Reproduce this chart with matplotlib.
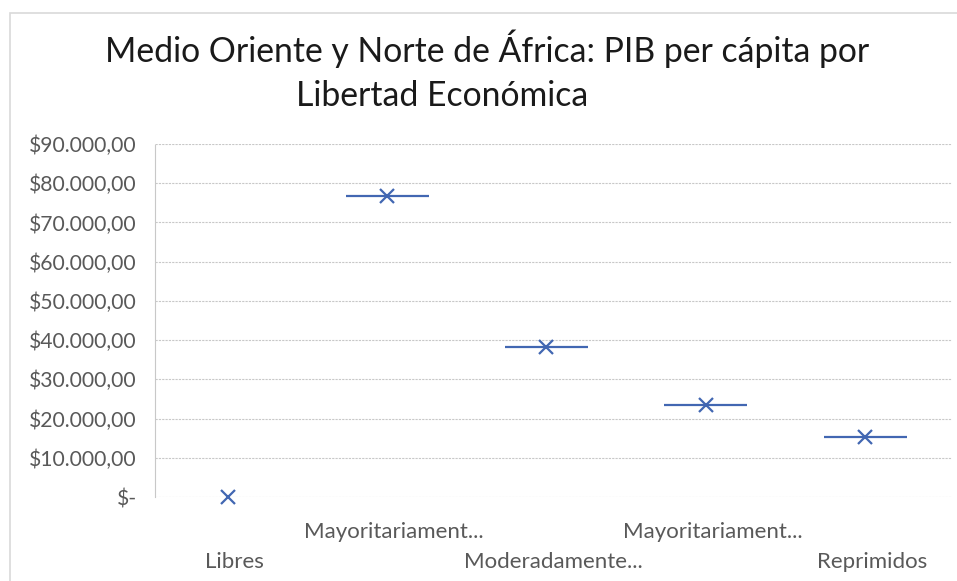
import matplotlib
matplotlib.use("Agg")
import matplotlib.pyplot as plt
from matplotlib.patches import Rectangle

categories = ["Libres", "Mayoritariamente libres", "Moderadamente libres",
              "Mayoritariamente no libres", "Reprimidos"]
tick_labels = ["Libres", "Mayoritariament...", "Moderadamente...",
               "Mayoritariament...", "Reprimidos"]
gdp_values = [0, 76800, 38200, 23500, 15400]
y_ticks = [0, 10000, 20000, 30000, 40000, 50000, 60000, 70000, 80000, 90000]
y_tick_labels = ["$-", "$10.000,00", "$20.000,00", "$30.000,00", "$40.000,00",
                 "$50.000,00", "$60.000,00", "$70.000,00", "$80.000,00", "$90.000,00"]

plt.rcParams["font.family"] = ["Lato", "DejaVu Sans"]
W, H = 957, 581
fig = plt.figure(figsize=(W / 100, H / 100), dpi=100)

# chart border
fig.patches.append(Rectangle((10 / W, -0.1), 1.2, (H - 13) / H + 0.1,
                             transform=fig.transFigure, fill=False,
                             edgecolor="#D9D9D9", linewidth=1.2))

ax = fig.add_axes([155 / W, 84 / H, (952 - 155) / W, (497 - 144) / H])
ax.set_xlim(-0.456, 4.544)
ax.set_ylim(0, 90000)

blue = "#4267B2"
half = 0.26
for i, v in enumerate(gdp_values):
    if v > 0:
        ax.plot([i - half, i + half], [v, v], color=blue, lw=1.6,
                solid_capstyle="butt", zorder=3)
    ax.plot(i, v, marker="x", color=blue, markersize=10, mew=1.6,
            clip_on=False, zorder=4)

ax.set_yticks(y_ticks)
ax.set_yticklabels(y_tick_labels)
ax.yaxis.grid(True, color="#C8C8C8", linestyle=(0, (2, 1)), linewidth=0.8)
ax.set_axisbelow(True)
ax.tick_params(axis="y", length=0, pad=13, labelsize=15.2, labelcolor="#595959")
ax.set_xticks([])
for s in ["top", "right", "bottom"]:
    ax.spines[s].set_visible(False)
ax.spines["left"].set_color("#C8C8C8")
ax.spines["left"].set_linestyle((0, (2, 1)))
ax.spines["left"].set_linewidth(0.8)

for i, lab in enumerate(tick_labels):
    yoff = -29.5 if i % 2 == 1 else -51.1
    ax.annotate(lab, xy=(i, 0), xycoords=("data", "axes fraction"),
                xytext=(5, yoff), textcoords="offset points",
                ha="center", va="baseline", fontsize=16, color="#595959")

fig.text(487 / W, 1 - 62 / H, "Medio Oriente y Norte de África: PIB per cápita por",
         ha="center", va="baseline", fontsize=24.3, color="#1a1a1a")
fig.text(442 / W, 1 - 106 / H, "Libertad Económica",
         ha="center", va="baseline", fontsize=24.3, color="#1a1a1a")

fig.savefig("out.png", dpi=100, facecolor="white")
